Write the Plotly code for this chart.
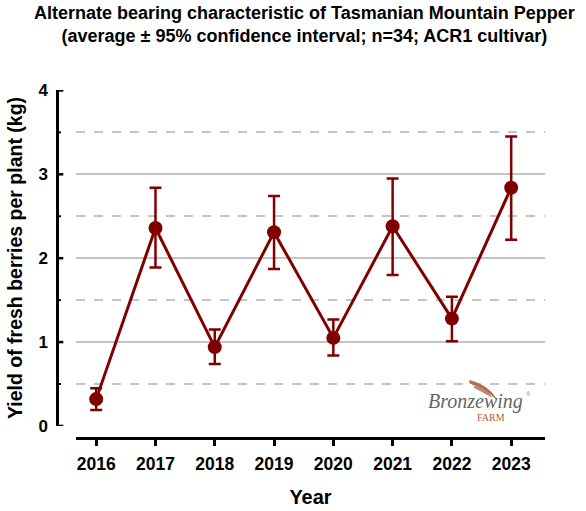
import plotly.graph_objects as go

years = [2016, 2017, 2018, 2019, 2020, 2021, 2022, 2023]
yield_mean = [0.32, 2.36, 0.94, 2.31, 1.05, 2.38, 1.28, 2.84]
ci_upper = [0.45, 2.84, 1.15, 2.74, 1.27, 2.95, 1.54, 3.45]
ci_lower = [0.19, 1.89, 0.74, 1.87, 0.84, 1.80, 1.01, 2.22]
y_major = [0, 1, 2, 3, 4]
y_minor = [0.5, 1.5, 2.5, 3.5]

err_plus = [u - m for u, m in zip(ci_upper, yield_mean)]
err_minus = [m - l for m, l in zip(yield_mean, ci_lower)]

dark_red = '#800000'
font_name = 'Liberation Sans, Arial, sans-serif'

fig = go.Figure()
fig.add_trace(go.Scatter(
	x=years,
	y=yield_mean,
	mode='lines+markers',
	line=dict(color=dark_red, width=3),
	marker=dict(color=dark_red, size=14),
	error_y=dict(type='data', symmetric=False, array=err_plus, arrayminus=err_minus,
		color=dark_red, thickness=2.5, width=6),
	showlegend=False,
	hoverinfo='skip',
))

fig.update_layout(
	width=586, height=511,
	margin=dict(l=57, r=41, t=90, b=73),
	paper_bgcolor='white',
	plot_bgcolor='white',
	font=dict(family=font_name, color='black'),
	xaxis=dict(
		domain=[0.039, 1],
		anchor='free', position=0,
		range=[2015.66, 2023.57],
		tickmode='array', tickvals=years, ticktext=['<b>%d</b>' % y for y in years],
		ticks='outside', ticklen=6, tickwidth=2.5, tickcolor='black',
		ticklabelstandoff=3,
		showline=True, linecolor='black', linewidth=3,
		showgrid=False, zeroline=False,
		tickfont=dict(size=17.5),
		automargin=False,
		title=dict(text='<b>Year</b>', font=dict(size=20), standoff=16),
	),
	yaxis=dict(
		domain=[0.0346, 1],
		anchor='free', position=0,
		range=[0, 4.005],
		tickmode='array', tickvals=y_major, ticktext=['<b>%d</b>' % v for v in y_major],
		ticks='',
		ticklabelstandoff=5,
		showline=True, linecolor='black', linewidth=2.5,
		showgrid=True, gridcolor='#c4c4c4', gridwidth=1.5,
		zeroline=False,
		tickfont=dict(size=17),
		automargin=False,
		minor=dict(tickvals=y_minor, ticks='',
			showgrid=True, gridcolor='#c4c4c4', gridwidth=1.5, griddash='dash'),
		title=dict(text='<b>Yield of fresh berries per plant (kg)</b>', font=dict(size=19.5), standoff=9),
	),
)

# inward-pointing y ticks (plotly draws none on a free axis here)
for v in y_major:
	fig.add_shape(type='line', xref='paper', yref='y', x0=0, x1=0.013, y0=v, y1=v,
		line=dict(color='black', width=2.5))
for v in y_minor:
	fig.add_shape(type='line', xref='paper', yref='y', x0=0, x1=0.008, y0=v, y1=v,
		line=dict(color='black', width=2))

# title as a paper annotation (multi-line titles sit too high otherwise)
fig.add_annotation(xref='paper', yref='paper', x=0.508, y=1.255, xanchor='center', yanchor='top',
	text='<b>Alternate bearing characteristic of Tasmanian Mountain Pepper<br>(average ± 95% confidence interval; n=34; ACR1 cultivar)</b>',
	showarrow=False, font=dict(size=18))

# Bronzewing Farm logo
fig.add_annotation(xref='paper', yref='paper', x=0.857, y=0.104, xanchor='center', yanchor='middle',
	text='<i>Bronzewing</i>', showarrow=False,
	font=dict(family='Liberation Serif, serif', size=20, color='#666666'))
fig.add_annotation(xref='paper', yref='paper', x=0.966, y=0.126, xanchor='center', yanchor='middle',
	text='®', showarrow=False,
	font=dict(family='Liberation Sans, sans-serif', size=6, color='#888888'))
fig.add_annotation(xref='paper', yref='paper', x=0.889, y=0.058, xanchor='center', yanchor='middle',
	text='FARM', showarrow=False,
	font=dict(family='Liberation Serif, serif', size=10, color='#b0603a'))
fig.add_shape(type='path', xref='paper', yref='paper',
	path='M 0.846 0.165 Q 0.885 0.150 0.900 0.112 Q 0.878 0.142 0.846 0.158 Z',
	fillcolor='#b0704f', line=dict(color='#b0704f', width=1))
fig.add_shape(type='path', xref='paper', yref='paper',
	path='M 0.856 0.150 Q 0.880 0.140 0.890 0.118 Q 0.872 0.134 0.856 0.144 Z',
	fillcolor='#c08a6e', line=dict(color='#c08a6e', width=1))

fig.write_html('out.html', post_script="document.body.style.margin='0px';",
	config={'displayModeBar': False})
